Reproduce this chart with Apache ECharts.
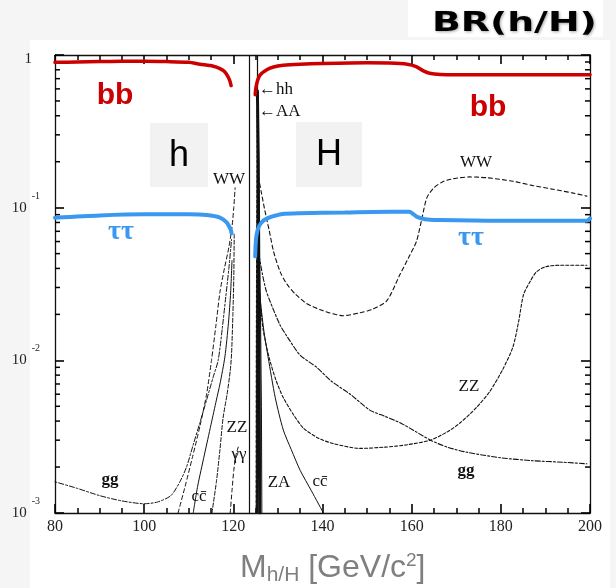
<!DOCTYPE html>
<html><head><meta charset="utf-8">
<script src="https://cdn.jsdelivr.net/npm/echarts@6/dist/echarts.min.js"></script>
<style>
html,body{margin:0;padding:0;background:#f5f5f5;width:616px;height:588px;overflow:hidden}
#c{position:absolute;left:0;top:0;width:616px;height:588px;z-index:2}
.panel{position:absolute;background:#fff;z-index:0}
.box{position:absolute;background:#f2f2f2;z-index:1}
</style>
</head><body>
<div class="panel" style="left:30px;top:40px;width:580px;height:548px"></div>
<div class="panel" style="left:408px;top:0;width:195px;height:37px"></div>
<div class="box" style="left:150px;top:123px;width:58px;height:64px"></div>
<div class="box" style="left:296px;top:122px;width:66px;height:65px"></div>
<div id="c"></div>
<script>
// ---- axis ranges / ticks ----
const xMin = 80, xMax = 200, xStep = 20;
const yMin = 0.001, yMax = 1;
const yMinorTicks = [0.002,0.003,0.004,0.005,0.006,0.007,0.008,0.009,
                     0.02,0.03,0.04,0.05,0.06,0.07,0.08,0.09,
                     0.2,0.3,0.4,0.5,0.6,0.7,0.8,0.9];
const separatorMasses = [123.6, 125.3];

// ---- light Higgs h (left) ----
const bb_h = [[80,0.895],[85,0.90],[90,0.905],[95,0.91],[100,0.91],[105,0.905],[110,0.895],[112.5,0.87],[115.5,0.845],[117,0.815],[118,0.78],[118.7,0.73],[119.2,0.68],[119.5,0.63]];
const tautau_h = [[80,0.086],[90,0.089],[100,0.0905],[110,0.0905],[114,0.0896],[117,0.0862],[118.5,0.080],[119.2,0.074],[119.5,0.0705],[119.6,0.068]];
const WW_h = [[107.6,0.001],[109.2,0.0015],[110.8,0.0023],[112.5,0.0037],[114,0.006],[115.1,0.01],[116.1,0.017],[117,0.028],[118,0.04],[119,0.055],[119.7,0.075],[120.1,0.1],[120.4,0.135]];
const gg_h = [[80,0.0016],[85,0.00145],[90,0.0013],[95,0.0012],[100,0.00115],[103,0.00118],[106,0.0013],[108,0.0016],[109.5,0.002],[111,0.0028],[112.5,0.0039],[114,0.0055],[115.5,0.0078],[116.6,0.01],[117.5,0.016],[118.3,0.026],[119,0.04],[119.6,0.062]];
const cc_h = [[111,0.001],[112,0.0015],[113.5,0.0024],[115,0.0038],[116.2,0.0055],[117,0.007],[118.1,0.0105],[118.9,0.0175],[119.4,0.028],[119.7,0.045]];
const ZZ_h = [[115.2,0.001],[116.2,0.0016],[117,0.0026],[117.7,0.0042],[118.6,0.006],[119.3,0.0085],[119.6,0.011],[119.9,0.02],[120.1,0.035],[120.2,0.067]];
const gamgam_h = [[119.3,0.001],[119.7,0.0014],[120.1,0.0019],[120.6,0.0024],[121.1,0.0027]];

// ---- heavy Higgs H (right) ----
const bb_H = [[124.9,0.55],[125.1,0.62],[125.5,0.69],[126,0.74],[127.5,0.80],[129,0.835],[131.2,0.856],[135,0.87],[140,0.88],[150,0.89],[155,0.885],[159,0.87],[161,0.84],[162.5,0.79],[164,0.76],[166.5,0.745],[170,0.742],[180,0.742],[190,0.742],[200,0.742]];
const tautau_H = [[124.9,0.048],[125.0,0.057],[125.2,0.066],[125.7,0.075],[126.7,0.082],[128,0.086],[129,0.088],[131,0.091],[135,0.092],[145,0.093],[155,0.094],[159.5,0.094],[160.3,0.091],[161.2,0.087],[163,0.084],[166,0.083],[180,0.082],[190,0.082],[199.3,0.082],[200,0.085]];
const WW_H = [[125.6,0.16],[126.3,0.125],[127.1,0.095],[128,0.072],[129,0.052],[130.5,0.038],[132,0.0316],[134,0.027],[136.5,0.0235],[140,0.0212],[144.6,0.0196],[148.4,0.0205],[151,0.0215],[154.4,0.0245],[157.4,0.0366],[159.3,0.047],[161.1,0.0605],[162.3,0.085],[163.4,0.116],[165,0.135],[167.2,0.149],[170,0.156],[173,0.159],[177,0.157],[182.7,0.149],[187,0.14],[191.7,0.132],[196,0.125],[199.3,0.119]];
const ZZ_H = [[125.5,0.04],[126,0.025],[126.7,0.0158],[128,0.0105],[129.5,0.0075],[131.2,0.0057],[133.5,0.0044],[135.7,0.0036],[139,0.0031],[142.4,0.00285],[148.4,0.00265],[154,0.0027],[159,0.0028],[164.2,0.003],[168,0.0034],[170.9,0.0039],[174.5,0.0049],[177.6,0.0063],[180.5,0.0088],[182.7,0.0122],[184,0.018],[185.1,0.027],[186.6,0.033],[188,0.038],[190,0.041],[193.3,0.042],[199.3,0.042]];
const gg_H = [[125.6,0.052],[126.5,0.037],[127.3,0.029],[128.2,0.0245],[130.5,0.017],[132.7,0.0134],[135,0.0108],[138.7,0.009],[142,0.0073],[146.2,0.006],[150.7,0.0047],[154,0.0043],[157.4,0.0039],[161,0.0034],[164.2,0.003],[168,0.0027],[172.4,0.0025],[180,0.0023],[187.2,0.0022],[194,0.00215],[199.3,0.0021]];
const cc_H = [[125.4,0.05],[126,0.026],[126.8,0.016],[127.8,0.0105],[129.4,0.0057],[131.2,0.0035],[133,0.0026],[135,0.0019],[137.5,0.0014],[140.2,0.001]];
const hh_H = [[125.9,0.001],[125.8,0.01],[125.7,0.05],[125.6,0.2],[125.4,0.58]];
const AA_H = [[125.2,0.001],[125.25,0.01],[125.35,0.1],[125.45,0.44]];
const ZA_H = [[126.4,0.001],[126.3,0.005],[126.1,0.02],[125.8,0.06]];

const RED = '#cc0000', BLUE = '#3a98f0', INK = '#111';
const SERIF = "'Liberation Serif','DejaVu Serif',serif";
const SANS = "'Liberation Sans',Arial,sans-serif";

function ln(name, data, color, width, type, z, smooth) {
  return {name, type:'line', data, symbol:'none', showSymbol:false, silent:true,
    smooth: smooth === undefined ? 0.25 : smooth, z: z || 2,
    lineStyle:{color, width, type: type || 'solid', cap:'round'}};
}

const chart = echarts.init(document.getElementById('c'), null, {renderer:'canvas'});

const axisX = (pos, showLabel) => ({
  type:'value', min:xMin, max:xMax, interval:xStep, position:pos,
  axisLine:{show:true, onZero:false, lineStyle:{color:INK, width:1.3}},
  axisTick:{show:true, inside:true, length:9, lineStyle:{color:'#000', width:1.6}},
  minorTick:{show:true, splitNumber:4, length:5, lineStyle:{color:'#000', width:1.5}},
  splitLine:{show:false},
  axisLabel:{show:showLabel, color:'#222', fontFamily:SERIF, fontSize:16, margin:6}
});
const axisY = (pos, showLabel) => ({
  type:'log', logBase:10, min:yMin, max:yMax, position:pos,
  axisLine:{show:true, onZero:false, lineStyle:{color:INK, width:1.3}},
  axisTick:{show:true, inside:true, length:9, lineStyle:{color:'#000', width:1.6}},
  splitLine:{show:false},
  axisLabel:{show:showLabel, margin:15, fontFamily:SERIF, color:'#222',
    formatter: v => { const e = Math.round(Math.log10(v)); return e === 0 ? '{one|1}{sp| }' : '{n|10}{s|' + e + '}'; },
    rich:{ n:{fontSize:15, fontFamily:SERIF, color:'#222', lineHeight:15, verticalAlign:'bottom'},
           one:{fontSize:15, fontFamily:SERIF, color:'#222', lineHeight:15, padding:[8,0,0,0]},
           s:{fontSize:10, fontFamily:SERIF, color:'#222', lineHeight:10, padding:[0,0,14,5], verticalAlign:'bottom'},
           sp:{width:8, fontSize:10} }
  }
});

const lbl = (text, x, y, opts) => ({type:'text', x, y, z:50, silent:true,
  style:Object.assign({text, fill:INK, font:'17px ' + SERIF, textAlign:'center', textVerticalAlign:'middle'}, opts || {})});

chart.setOption({
  animation:false,
  backgroundColor:'transparent',
  grid:{left:55, right:26, top:55, bottom:75, containLabel:false},
  xAxis:[axisX('bottom', true), axisX('top', false)],
  yAxis:[axisY('left', true), axisY('right', false)],
  graphic:[
    {type:'text', x:432, y:24, scaleX:1.4, z:50, silent:true,
      style:{text:'BR(h/H)', fill:'#000', font:"bold 27px 'DejaVu Sans',sans-serif", textAlign:'left', textVerticalAlign:'middle',
        textShadowColor:'rgba(0,0,0,0.35)', textShadowBlur:3, textShadowOffsetX:1, textShadowOffsetY:1}},
    lbl('h', 179, 156, {font:'36px ' + SANS, fill:'#000'}),
    lbl('H', 329, 155, {font:'36px ' + SANS, fill:'#000'}),
    lbl('bb', 115, 96, {font:'bold 30px ' + SANS, fill:RED}),
    lbl('bb', 488, 108, {font:'bold 30px ' + SANS, fill:RED}),
    lbl('ττ', 121, 232, {font:'bold 28px ' + SERIF, fill:BLUE}),
    lbl('ττ', 471, 238, {font:'bold 28px ' + SERIF, fill:BLUE}),
    lbl('WW', 229, 180),
    lbl('WW', 476, 163),
    lbl('ZZ', 237, 428),
    lbl('ZZ', 469, 387),
    lbl('γγ', 239, 455),
    lbl('cc\u0304', 199, 497),
    lbl('cc\u0304', 320, 482),
    lbl('gg', 110, 480, {font:'bold 17px ' + SERIF}),
    lbl('gg', 466, 471, {font:'bold 17px ' + SERIF}),
    lbl('ZA', 279, 483),
    lbl('\u2190hh', 259, 90, {textAlign:'left'}),
    lbl('\u2190AA', 259, 112, {textAlign:'left'}),
    {type:'text', x:240, y:568, z:50, silent:true,
      style:{text:'M{sub|h/H} [GeV/c{sup|2}]', fill:'#7f7f7f', font:'32px ' + SANS, textAlign:'left', textVerticalAlign:'middle',
        rich:{sub:{fontSize:21, fontFamily:SANS, fill:'#7f7f7f', padding:[15,0,0,0]},
              sup:{fontSize:19, fontFamily:SANS, fill:'#7f7f7f', padding:[0,0,14,0]}}}}
  ],
  series:[
    {type:'custom', z:3, data: yMinorTicks.map(v => [xMin, v]),
      renderItem:(params, api) => {
        const v = api.value(1);
        const pL = api.coord([xMin, v]), pR = api.coord([xMax, v]);
        return {type:'group', children:[
          {type:'line', shape:{x1:pL[0], y1:pL[1], x2:pL[0]+5, y2:pL[1]}, style:{stroke:'#000', lineWidth:1.5}},
          {type:'line', shape:{x1:pR[0]-5, y1:pR[1], x2:pR[0], y2:pR[1]}, style:{stroke:'#000', lineWidth:1.5}}
        ]};
      }},
    Object.assign(ln('sep', [], INK, 1), {markLine:{silent:true, symbol:'none', label:{show:false},
      lineStyle:{color:INK, width:1.2, type:'solid'}, data: separatorMasses.map(m => ({xAxis:m}))}}),
    ln('gg_h', gg_h, INK, 1, [2,2,5,2]),
    ln('WW_h', WW_h, INK, 1, [4,3]),
    ln('cc_h', cc_h, INK, 1),
    ln('ZZ_h', ZZ_h, INK, 1, [4,2]),
    ln('gamgam_h', gamgam_h, INK, 1, [4,3]),
    ln('WW_H', WW_H, INK, 1.1, [4,3]),
    ln('ZZ_H', ZZ_H, INK, 1.1, [3,2]),
    ln('gg_H', gg_H, INK, 1.1, [2,2,5,2]),
    ln('cc_H', cc_H, INK, 1),
    ln('hh_H', hh_H, INK, 3, 'solid', 2, false),
    ln('AA_H', AA_H, INK, 2, [3,2], 2, false),
    ln('ZA_H', ZA_H, INK, 1, 'solid', 2, false),
    ln('bb_h', bb_h, RED, 3.5, 'solid', 10),
    ln('bb_H', bb_H, RED, 3.5, 'solid', 10),
    ln('tautau_h', tautau_h, BLUE, 4, 'solid', 10),
    ln('tautau_H', tautau_H, BLUE, 4, 'solid', 10)
  ]
});
</script></body></html>
